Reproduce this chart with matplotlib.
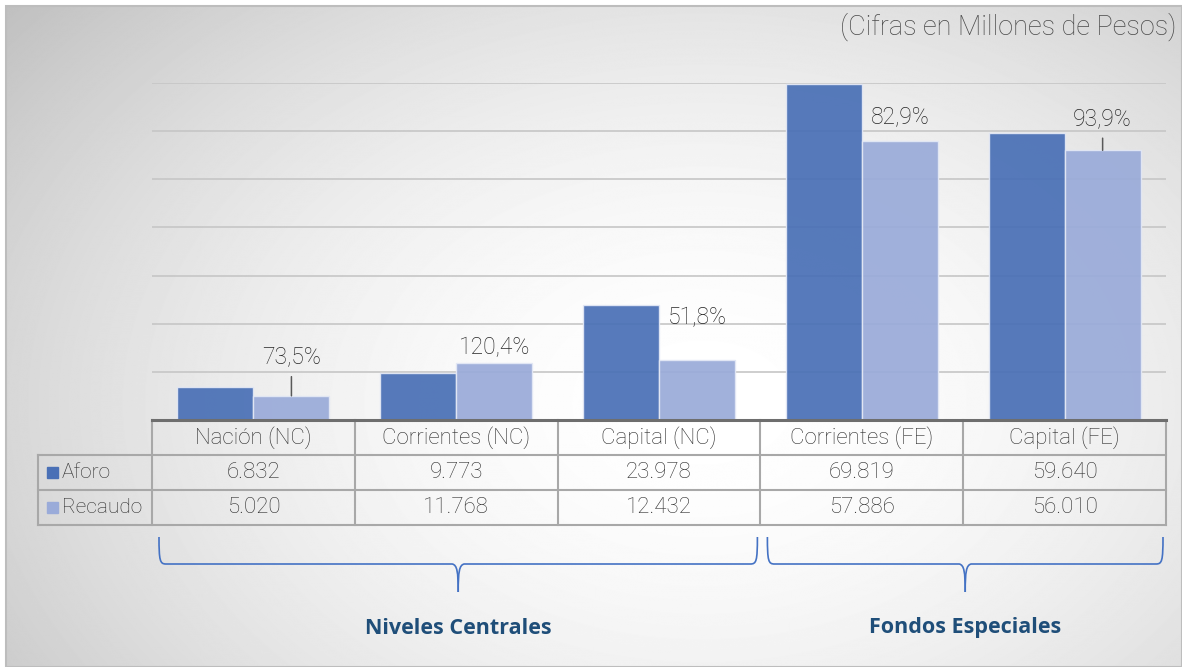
import numpy as np
import matplotlib
matplotlib.use("Agg")
import matplotlib.pyplot as plt
import matplotlib.transforms as mtransforms
from matplotlib.patches import Rectangle, PathPatch
from matplotlib.path import Path

plt.rcParams["font.family"] = ["Roboto", "DejaVu Sans"]

# datos
categorias = ["Nación (NC)", "Corrientes (NC)", "Capital (NC)", "Corrientes (FE)", "Capital (FE)"]
aforo = [6832, 9773, 23978, 69819, 59640]
recaudo = [5020, 11768, 12432, 57886, 56010]
series = ["Aforo", "Recaudo"]
grupos = ["Niveles Centrales", "Fondos Especiales"]
grupo_cols = [(0, 2), (3, 4)]
titulo = "(Cifras en Millones de Pesos)"

# estilo
C_AFORO = "#4A70B6"
C_RECAUDO = "#9AABD9"
C_TEXT = "#2E2E2E"
C_GRID = "#C6C6C6"
C_TABLE = "#A8A8A8"
C_BRACE = "#4472C4"
C_GRUPO = "#1F4E79"
FS = 16
# desplazamiento vertical (px) de las etiquetas de % y si llevan linea guia
pct_dy = [39, 16, 43, 25, 32]
pct_guia = [True, False, False, False, True]

W, H = 1182, 667
fig = plt.figure(figsize=(W / 100, H / 100), dpi=100)

# fondo con degradado
bg = fig.add_axes([0, 0, 1, 1])
bg.set_xlim(0, W)
bg.set_ylim(H, 0)
bg.axis("off")
yy, xx = np.mgrid[0:H, 0:W]
r = np.sqrt(((xx - 700) / 800.0) ** 2 + ((yy - 400) / 560.0) ** 2)
val = 1.0 - 0.2 * r ** 1.8
bg.imshow(val, cmap="gray", vmin=0, vmax=1, extent=(6, W, H, 6),
          aspect="auto", interpolation="bilinear", zorder=0)
bg.add_patch(Rectangle((6, 6), W - 6, H - 6, fill=False, edgecolor="#BDBDBD", lw=1.5, zorder=1))

bg.text(1176, 27, titulo, ha="right", va="center", fontsize=19.5,
        color="#4A4A4A", fontweight="light")

# barras
x0, x1, ytop, ybase = 152, 1166, 83, 420
ax = fig.add_axes([x0 / W, 1 - ybase / H, (x1 - x0) / W, (ybase - ytop) / H])
ax.set_facecolor("none")
ax.set_xlim(-0.5, len(categorias) - 0.5)
ax.set_ylim(0, 70000)
ax.set_yticks(np.arange(10000, 70001, 10000))
ax.yaxis.grid(True, color=C_GRID, lw=1.2)
ax.set_axisbelow(True)
ax.tick_params(length=0, labelleft=False, labelbottom=False)
for s in ["top", "left", "right"]:
    ax.spines[s].set_visible(False)
ax.spines["bottom"].set_color("#6E6E6E")
ax.spines["bottom"].set_linewidth(2.2)
ax.set_xticks([])

x = np.arange(len(categorias))
w = 0.375
ax.bar(x - w / 2, aforo, w, color=C_AFORO, alpha=0.93, edgecolor="#E3E8F5", lw=1)
ax.bar(x + w / 2, recaudo, w, color=C_RECAUDO, alpha=0.93, edgecolor="#E3E8F5", lw=1)

for i in range(len(categorias)):
    pct = recaudo[i] / aforo[i] * 100
    txt = f"{pct:.1f}%".replace(".", ",")
    props = None
    if pct_guia[i]:
        props = dict(arrowstyle="-", color="#595959", lw=1.1, shrinkA=4, shrinkB=0)
    ax.annotate(txt, xy=(x[i] + w / 2, recaudo[i]), xytext=(0, pct_dy[i]),
                textcoords="offset pixels", ha="center", va="center",
                fontsize=16.5, color="#262626", fontweight="light", arrowprops=props,
                annotation_clip=False)

# tabla de datos
trans = mtransforms.blended_transform_factory(ax.transData, bg.transData)
filas_y = [420, 455, 490, 525]
for yline in filas_y[1:]:
    bg.plot([38, x1], [yline, yline], color=C_TABLE, lw=1.5, zorder=3)
for b in np.arange(len(categorias) + 1) - 0.5:
    bg.plot([b, b], [filas_y[0], filas_y[-1]], color=C_TABLE, lw=1.5, transform=trans, zorder=3)
bg.plot([38, 38], [filas_y[1], filas_y[-1]], color=C_TABLE, lw=1.5, zorder=3)

for i, cat in enumerate(categorias):
    yc = (filas_y[0] + filas_y[1]) / 2
    bg.text(x[i], yc, cat, transform=trans, ha="center", va="center",
            fontsize=FS, color=C_TEXT, fontweight="light")
    for j, vals in enumerate([aforo, recaudo]):
        yc = (filas_y[j + 1] + filas_y[j + 2]) / 2
        s = f"{vals[i]:,}".replace(",", ".")
        bg.text(x[i], yc, s, transform=trans, ha="center", va="center",
                fontsize=FS, color=C_TEXT, fontweight="light")

for j, (nombre, col) in enumerate(zip(series, [C_AFORO, C_RECAUDO])):
    yc = (filas_y[j + 1] + filas_y[j + 2]) / 2
    bg.add_patch(Rectangle((47, yc - 5.5), 11, 11, color=col, zorder=3))
    bg.text(62, yc, nombre, ha="left", va="center", fontsize=15,
            color=C_TEXT, fontweight="light")


# llaves
def llave(xa, xb, y0=537, y1=564, y2=592):
    xm = (xa + xb) / 2
    izq = Path([(xa, y0), (xa, y1 - 3), (xa + 1, y1), (xa + 7, y1),
                (xm - 6, y1), (xm - 1, y1 + 1), (xm, y1 + 8), (xm, y2)],
               [Path.MOVETO, Path.CURVE4, Path.CURVE4, Path.CURVE4,
                Path.LINETO, Path.CURVE4, Path.CURVE4, Path.CURVE4])
    der = Path([(xm, y2), (xm, y1 + 8), (xm + 1, y1 + 1), (xm + 6, y1),
                (xb - 7, y1), (xb - 1, y1), (xb, y1 - 3), (xb, y0)],
               [Path.MOVETO, Path.CURVE4, Path.CURVE4, Path.CURVE4,
                Path.LINETO, Path.CURVE4, Path.CURVE4, Path.CURVE4])
    return izq, der, xm


to_bg = bg.transData.inverted()
for nombre, (ca, cb) in zip(grupos, grupo_cols):
    xa = to_bg.transform(trans.transform((ca - 0.5, 0)))[0] + 7
    xb = to_bg.transform(trans.transform((cb + 0.5, 0)))[0] - 3
    for p in llave(xa, xb)[:2]:
        bg.add_patch(PathPatch(p, fill=False, edgecolor=C_BRACE, lw=1.2, zorder=3))
    bg.text((xa + xb) / 2, 628, nombre, ha="center", va="center", fontsize=15.5,
            fontweight="bold", color=C_GRUPO, family=["Open Sans", "DejaVu Sans"])

fig.savefig("out.png", dpi=100)
